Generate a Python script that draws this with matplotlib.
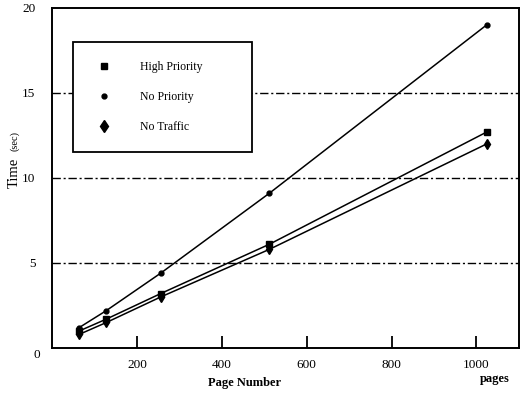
import numpy as np
import matplotlib.pyplot as plt
from matplotlib.lines import Line2D

plt.rcParams['font.family'] = ['Liberation Serif', 'DejaVu Serif']

# Data
pages = [64, 128, 256, 512, 1024]
high_priority = [1.0, 1.7, 3.2, 6.1, 12.7]
no_priority = [1.2, 2.2, 4.4, 9.1, 19.0]
no_traffic = [0.8, 1.5, 3.0, 5.8, 12.0]

x_ticks = [200, 400, 600, 800, 1000]
y_ticks = [5, 10, 15, 20]
ref_lines = [5, 10, 15]

fig = plt.figure(figsize=(5.21, 3.96), dpi=100)
ax = fig.add_axes([0.0998, 0.1212, 0.8962, 0.8588])

for y in ref_lines:
    ax.axhline(y, color='black', lw=1.0, ls=(0, (6, 2, 1.5, 2)), zorder=1)

ax.plot(pages, high_priority, color='black', lw=1.1, marker='s', ms=4.5, zorder=3)
ax.plot(pages, no_priority, color='black', lw=1.1, marker='o', ms=3.5, zorder=3)
ax.plot(pages, no_traffic, color='black', lw=1.1, marker='d', ms=5, zorder=3)

ax.set_xlim(0, 1100)
ax.set_ylim(0, 20)
ax.set_xticks(x_ticks)
ax.set_yticks(y_ticks)
ax.tick_params(axis='x', direction='in', length=9, width=1.3, pad=8, labelsize=9.5)
ax.tick_params(axis='y', length=0, pad=12, labelsize=9.5)
for s in ax.spines.values():
    s.set_linewidth(1.4)

ax.text(-0.032, -0.022, '0', transform=ax.transAxes, fontsize=9.5, ha='center', va='center')

fig.text(0.470, 0.033, 'Page Number', ha='center', va='center', fontsize=9, fontweight='bold')
fig.text(0.950, 0.043, 'pages', ha='center', va='center', fontsize=9, fontweight='bold')
fig.text(0.028, 0.563, 'Time', rotation=90, ha='center', va='center', fontsize=10.5)
fig.text(0.029, 0.644, '(sec)', rotation=90, ha='center', va='center', fontsize=7.5)

handles = [
    Line2D([], [], color='black', ls='none', marker='s', ms=5),
    Line2D([], [], color='black', ls='none', marker='o', ms=3.5),
    Line2D([], [], color='black', ls='none', marker='d', ms=6),
]
leg = ax.legend(handles, ['High Priority', 'No Priority', 'No Traffic'],
                loc='upper left', bbox_to_anchor=(0.045, 0.574, 0.383, 0.326),
                mode='expand', fancybox=False, edgecolor='black', framealpha=1,
                fontsize=8.5, labelspacing=1.55, borderpad=1.6,
                handlelength=2.0, handletextpad=2.1, borderaxespad=0)
leg.get_frame().set_linewidth(1.3)
leg._legend_box.align = 'left'

fig.savefig('out.png', dpi=100)
